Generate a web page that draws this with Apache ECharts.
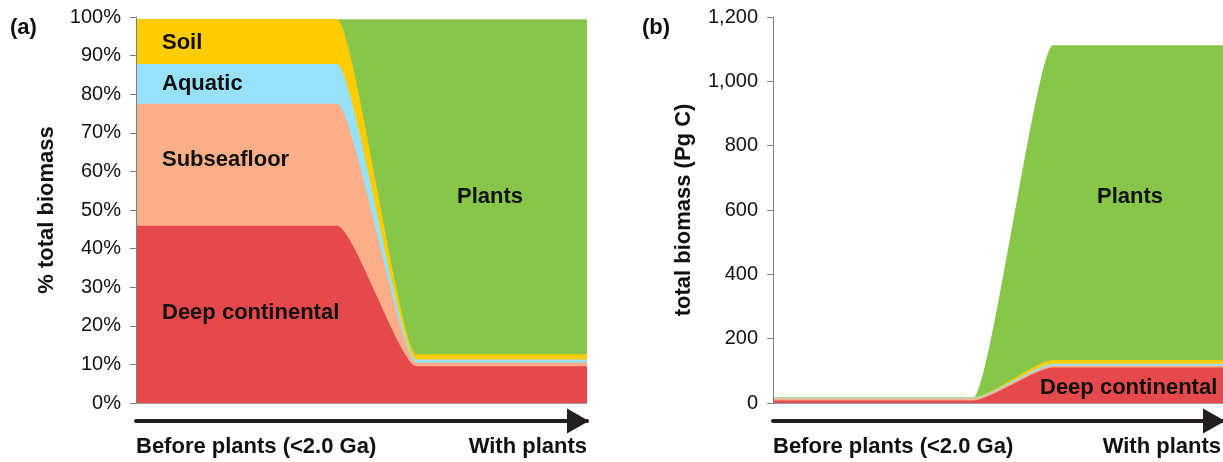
<!DOCTYPE html>
<html>
<head>
<meta charset="utf-8">
<script src="https://cdn.jsdelivr.net/npm/echarts@6/dist/echarts.min.js"></script>
<style>
  html, body { margin: 0; padding: 0; background: #fff; }
  #chart { width: 1223px; height: 462px; }
</style>
</head>
<body>
<div id="chart"></div>
<script>
// unlabelled time axis: 0 = before plants, 100 = with plants
const timeSteps = [0, 44.6, 62.2, 100];

// (a) share of total biomass, %
const pctDeepContinental = [45.9, 45.9, 9.5, 9.5];
const pctSubseafloor = [31.6, 31.6, 1.0, 1.0];
const pctAquatic = [10.3, 10.3, 0.8, 0.8];
const pctSoil = [11.6, 11.6, 1.3, 1.3];
const pctPlants = [0, 0, 86.8, 86.8];

// (b) total biomass, Pg C
const pgDeepContinental = [8, 8, 110, 110];
const pgSubseafloor = [6, 6, 6, 6];
const pgAquatic = [3, 3, 6, 6];
const pgSoil = [1, 1, 12, 12];
const pgPlants = [0, 0, 978, 978];

const pctRange = [0, 100, 10];
const pgRange = [0, 1200, 200];

const FONT = "'Liberation Sans', Arial, Helvetica, sans-serif";
const COLORS = {
  deep: '#E5494B',
  subsea: '#FBAE87',
  aquatic: '#97E2FA',
  soil: '#FFCC00',
  plants: '#88C64A'
};

// layers bottom -> top; drawn as running totals, top layer first,
// so every band sits on the one below it
function layers(deep, subsea, aquatic, soil, plants) {
  const list = [
    ['Deep continental', deep, COLORS.deep],
    ['Subseafloor', subsea, COLORS.subsea],
    ['Aquatic', aquatic, COLORS.aquatic],
    ['Soil', soil, COLORS.soil],
    ['Plants', plants, COLORS.plants]
  ];
  let running = timeSteps.map(() => 0);
  const out = list.map(([name, vals, color]) => {
    running = running.map((r, i) => r + vals[i]);
    return { name, top: running.slice(), color };
  });
  return out.reverse();
}

function areaSeries(name, top, color, idx) {
  return {
    name: name,
    type: 'line',
    xAxisIndex: idx * 2,
    yAxisIndex: idx,
    data: top.map((v, i) => [timeSteps[i], v]),
    smooth: 0.2,
    smoothMonotone: 'x',
    symbol: 'none',
    lineStyle: { width: 0 },
    areaStyle: { color: color, opacity: 1 },
    itemStyle: { color: color },
    emphasis: { disabled: true },
    silent: true
  };
}

function baseX(gridIndex) {
  return {
    gridIndex: gridIndex, type: 'value', min: 0, max: 100,
    axisLine: { show: true, lineStyle: { color: '#a0a0a0', width: 1 } },
    axisTick: { show: false }, axisLabel: { show: false }, splitLine: { show: false }
  };
}

function arrowX(gridIndex) {
  return {
    gridIndex: gridIndex, type: 'value', min: 0, max: 100, position: 'bottom', offset: 18,
    axisLine: {
      show: true, symbol: ['none', 'triangle'], symbolSize: [25, 22], symbolOffset: [0, -9],
      lineStyle: { color: '#231f20', width: 4 }
    },
    axisTick: { show: false }, axisLabel: { show: false }, splitLine: { show: false }
  };
}

function valueY(gridIndex, range, name, fmt) {
  return {
    gridIndex: gridIndex, type: 'value', min: range[0], max: range[1], interval: range[2],
    z: 10,
    name: name, nameLocation: 'middle', nameGap: 78,
    nameTextStyle: { fontFamily: FONT, fontWeight: 'bold', fontSize: 22, color: '#111' },
    axisLine: { show: true, lineStyle: { color: '#7f7f7f', width: 1 } },
    axisTick: { show: true, length: 6, lineStyle: { color: '#7f7f7f' } },
    axisLabel: { formatter: fmt, fontFamily: FONT, fontSize: 20, color: '#111', margin: 15 },
    splitLine: { show: false }
  };
}

function label(text, x, y, align) {
  return {
    type: 'text', x: x, y: y, z: 100,
    style: {
      text: text, fill: '#111', font: 'bold 22px ' + FONT,
      textAlign: align || 'left', align: align || 'left',
      textVerticalAlign: 'middle', verticalAlign: 'middle'
    }
  };
}

const panelA = layers(pctDeepContinental, pctSubseafloor, pctAquatic, pctSoil, pctPlants);
const panelB = layers(pgDeepContinental, pgSubseafloor, pgAquatic, pgSoil, pgPlants);

const chart = echarts.init(document.getElementById('chart'), null, { renderer: 'canvas' });

chart.setOption({
  backgroundColor: '#fff',
  animation: false,
  grid: [
    { left: 136, top: 17, width: 451, height: 386 },
    { left: 773, top: 17, width: 450, height: 386 }
  ],
  xAxis: [baseX(0), arrowX(0), baseX(1), arrowX(1)],
  yAxis: [
    valueY(0, pctRange, '% total biomass', '{value}%'),
    valueY(1, pgRange, 'total biomass (Pg C)')
  ],
  series: [
    ...panelA.map(l => areaSeries(l.name, l.top, l.color, 0)),
    ...panelB.map(l => areaSeries(l.name, l.top, l.color, 1))
  ],
  graphic: [
    label('(a)', 10, 28),
    label('(b)', 642, 28),
    label('Soil', 162, 43),
    label('Aquatic', 162, 84),
    label('Subseafloor', 162, 160),
    label('Deep continental', 162, 313),
    label('Plants', 490, 197, 'center'),
    label('Plants', 1130, 197, 'center'),
    label('Deep continental', 1040, 388),
    label('Before plants (<2.0 Ga)', 136, 447),
    label('With plants', 587, 447, 'right'),
    label('Before plants (<2.0 Ga)', 773, 447),
    label('With plants', 1221, 447, 'right')
  ]
});
</script>
</body>
</html>
